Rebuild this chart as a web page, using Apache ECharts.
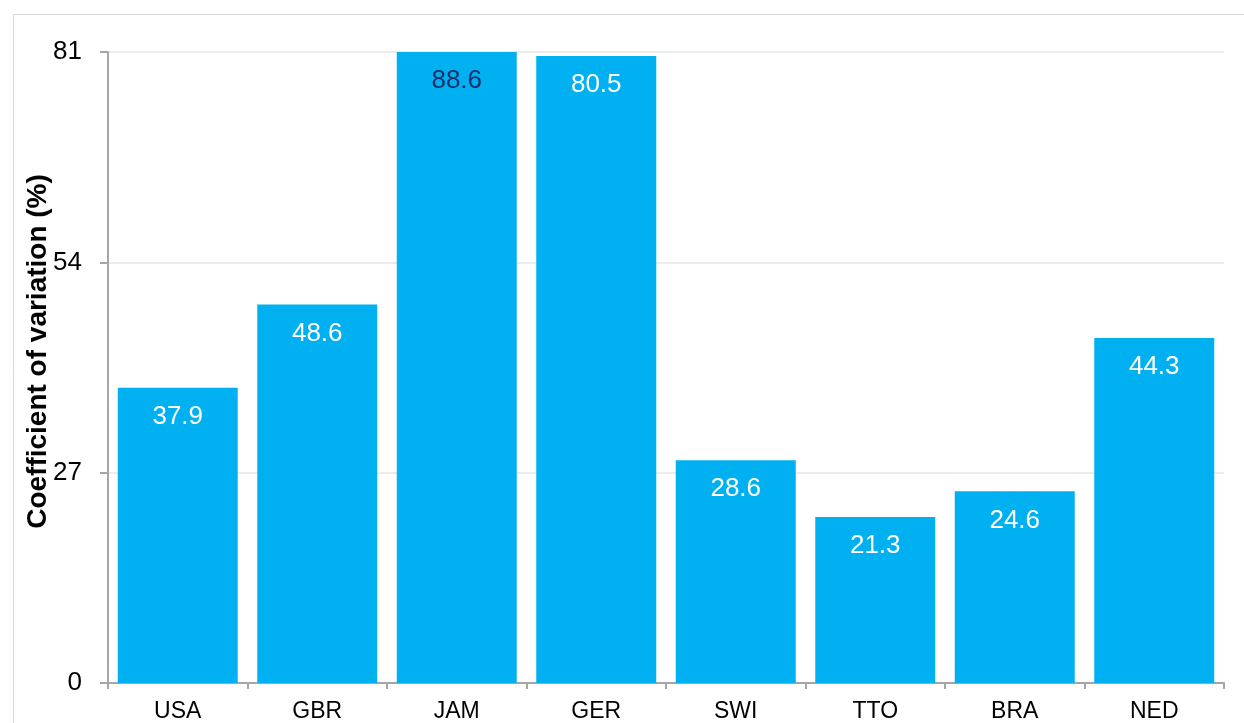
<!DOCTYPE html>
<html>
<head>
<meta charset="utf-8">
<script src="https://cdn.jsdelivr.net/npm/echarts@6/dist/echarts.min.js"></script>
<style>
  html, body { margin: 0; padding: 0; background: #ffffff; }
  #chart { width: 1244px; height: 723px; }
</style>
</head>
<body>
<div id="chart"></div>
<script>
// Country codes along the x axis
const countries = ['USA', 'GBR', 'JAM', 'GER', 'SWI', 'TTO', 'BRA', 'NED'];
// Coefficient of variation per country (%)
const cvValues = [37.9, 48.6, 88.6, 80.5, 28.6, 21.3, 24.6, 44.3];
// Value axis range and step
const yMin = 0;
const yMax = 81;
const yStep = 27;

const barColor = '#00b0f0';
const font = 'Liberation Sans, Arial, sans-serif';

const chart = echarts.init(document.getElementById('chart'), null, { renderer: 'canvas' });

chart.setOption({
  backgroundColor: '#ffffff',
  animation: false,
  graphic: [{
    type: 'rect',
    silent: true,
    shape: { x: 13.5, y: 14.5, width: 1400, height: 900 },
    style: { fill: 'none', stroke: '#d9d9d9', lineWidth: 1 },
    z: -10
  }],
  grid: { left: 108, right: 20, top: 52, bottom: 39, containLabel: false },
  xAxis: {
    type: 'category',
    data: countries,
    boundaryGap: true,
    axisLine: { lineStyle: { color: '#a6a6a6', width: 2 } },
    axisTick: { show: true, length: 6, lineStyle: { color: '#a6a6a6', width: 2 } },
    axisLabel: { color: '#000000', fontSize: 23, fontFamily: font, margin: 17 },
    splitLine: { show: false }
  },
  yAxis: {
    type: 'value',
    min: yMin,
    max: yMax,
    interval: yStep,
    name: 'Coefficient of variation (%)',
    nameLocation: 'middle',
    nameGap: 56,
    nameMoveOverlap: false,
    nameTextStyle: {
      color: '#000000', fontSize: 28, fontWeight: 'bold', fontFamily: font,
      padding: [0, 0, 0, 32]
    },
    axisLine: { show: true, lineStyle: { color: '#a6a6a6', width: 2 } },
    axisTick: { show: true, length: 8, lineStyle: { color: '#a6a6a6', width: 2 } },
    axisLabel: { color: '#000000', fontSize: 26, fontFamily: font, margin: 26 },
    splitLine: { show: true, lineStyle: { color: '#ececec', width: 2 } }
  },
  series: [{
    type: 'bar',
    clip: true,
    barCategoryGap: '14%',
    data: cvValues.map(v => ({
      value: v,
      label: v > yMax ? { color: '#14306b' } : undefined
    })),
    itemStyle: { color: barColor },
    label: {
      show: true,
      position: 'insideTop',
      distance: 16,
      color: '#ffffff',
      fontSize: 26,
      fontFamily: font,
      formatter: p => p.value.toFixed(1)
    }
  }]
});
</script>
</body>
</html>
